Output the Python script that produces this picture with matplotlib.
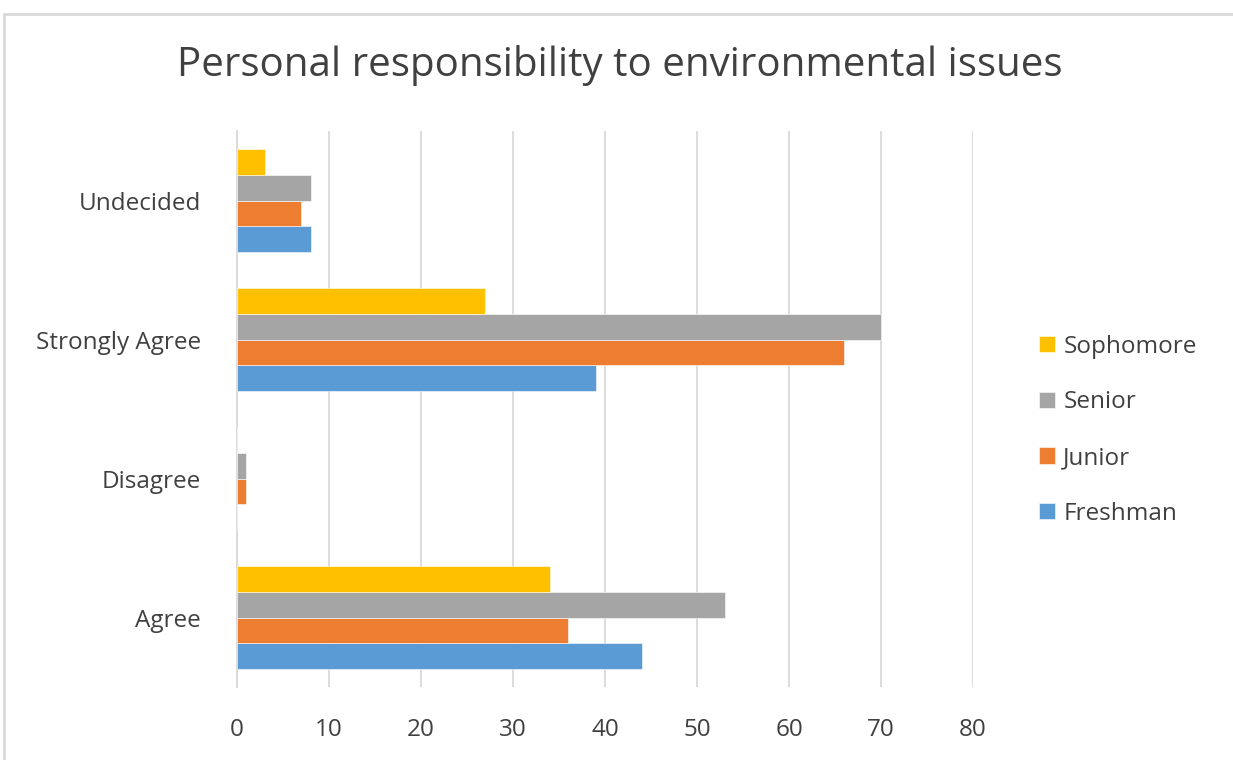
import matplotlib.pyplot as plt
import numpy as np

plt.rcParams['font.family'] = ['Open Sans', 'DejaVu Sans']

# categories from bottom to top
categories = ['Agree', 'Disagree', 'Strongly Agree', 'Undecided']
series = ['Freshman', 'Junior', 'Senior', 'Sophomore']
freshman = [44, 0, 39, 8]
junior = [36, 1, 66, 7]
senior = [53, 1, 70, 8]
sophomore = [34, 0, 27, 3]
colors = ['#5B9BD5', '#ED7D31', '#A5A5A5', '#FFC000']
xticks = [0, 10, 20, 30, 40, 50, 60, 70, 80]

fig = plt.figure(figsize=(12.33, 7.6), dpi=100)
ax = fig.add_axes([0.1922, 0.096, 0.5970, 0.7316])

values = [freshman, junior, senior, sophomore]
y = np.arange(len(categories))
h = 0.184
for i, (name, vals, c) in enumerate(zip(series, values, colors)):
    ax.barh(y + (i - 1.5) * h, vals, height=h, color=c, label=name,
            edgecolor='white', linewidth=0.4, zorder=3)

ax.set_xlim(0, 80)
ax.set_ylim(-0.5, 3.5)
ax.set_xticks(xticks)
ax.set_yticks(y)
ax.set_yticklabels(categories)
ax.tick_params(axis='both', length=0, labelsize=17.5, colors='#404040')
ax.tick_params(axis='x', pad=22)
ax.tick_params(axis='y', pad=26)
ax.grid(axis='x', color='#d9d9d9', linewidth=1.3, zorder=0)
for s in ['top', 'right', 'bottom']:
    ax.spines[s].set_visible(False)
ax.spines['left'].set_color('#d9d9d9')
ax.spines['left'].set_linewidth(1.3)

fig.text(0.503, 0.914, 'Personal responsibility to environmental issues',
         ha='center', va='center', fontsize=29, color='#404040')

handles, labels = ax.get_legend_handles_labels()
ax.legend(handles[::-1], labels[::-1], loc='center left',
          bbox_to_anchor=(1.06, 0.462), frameon=False, fontsize=17.5,
          handlelength=0.65, handleheight=0.65, handletextpad=0.35,
          labelspacing=1.3, labelcolor='#404040')

# outer chart border
fig.patches.append(plt.Rectangle((0.003, -0.01), 1.1, 1.0 - 0.008, transform=fig.transFigure,
                                 fill=False, edgecolor='#d9d9d9', linewidth=2))

fig.savefig('out.png', dpi=100)
